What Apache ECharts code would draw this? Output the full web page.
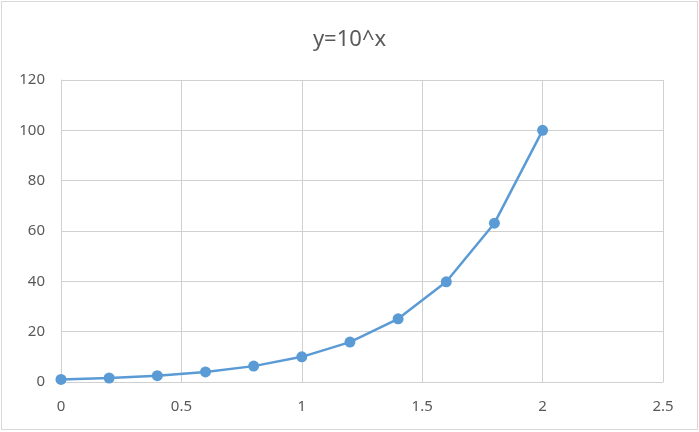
<!DOCTYPE html>
<html><head><meta charset="utf-8">
<script src="https://cdn.jsdelivr.net/npm/echarts@6/dist/echarts.min.js"></script>
<style>html,body{margin:0;padding:0;background:#fff}#c{position:absolute;left:1px;top:1px;width:697px;height:429px;border:1px solid #d9d9d9;box-sizing:border-box}</style>
</head><body><div id="c"></div>
<script>
const xValues = [0, 0.2, 0.4, 0.6, 0.8, 1, 1.2, 1.4, 1.6, 1.8, 2];
const yValues = [1, 1.585, 2.512, 3.981, 6.31, 10, 15.85, 25.12, 39.81, 63.1, 100];
const titleText = 'y=10^x';
const chart = echarts.init(document.getElementById('c'));
const font = '"Noto Sans", "Open Sans", sans-serif';
chart.setOption({
  animation: false,
  title: { text: titleText, left: 'center', top: 22, textStyle: { fontFamily: font, fontSize: 22, fontWeight: 'normal', color: '#595959' } },
  grid: { left: 59, right: 34, top: 78, bottom: 47, containLabel: false },
  xAxis: { type: 'value', min: 0, max: 2.5, interval: 0.5,
    axisLine: { show: true, lineStyle: { color: '#d0d0d0' } }, axisTick: { show: false },
    splitLine: { show: true, lineStyle: { color: '#d0d0d0' } },
    axisLabel: { margin: 17, color: '#595959', fontFamily: font, fontSize: 15 } },
  yAxis: { type: 'value', min: 0, max: 120, interval: 20,
    axisLine: { show: true, lineStyle: { color: '#d0d0d0' } }, axisTick: { show: false },
    splitLine: { show: true, lineStyle: { color: '#d0d0d0' } },
    axisLabel: { margin: 16, color: '#595959', fontFamily: font, fontSize: 15 } },
  series: [{ type: 'line', data: xValues.map((x, i) => [x, yValues[i]]),
    symbol: 'circle', symbolSize: 11, showAllSymbol: true,
    lineStyle: { color: '#5b9bd5', width: 2.5 }, itemStyle: { color: '#5b9bd5' } }]
});
</script></body></html>
